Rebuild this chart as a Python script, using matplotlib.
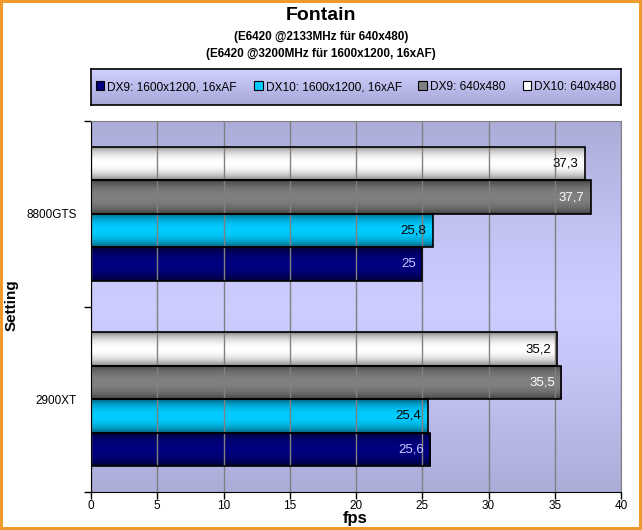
import numpy as np
import matplotlib.pyplot as plt
from matplotlib.colors import LinearSegmentedColormap
from matplotlib.patches import Rectangle

plt.rcParams['font.family'] = ['Liberation Sans', 'DejaVu Sans']

categories = ["2900XT", "8800GTS"]
series = ["DX9: 1600x1200, 16xAF", "DX10: 1600x1200, 16xAF", "DX9: 640x480", "DX10: 640x480"]
values = {
    "DX9: 1600x1200, 16xAF": [25.6, 25.0],
    "DX10: 1600x1200, 16xAF": [25.4, 25.8],
    "DX9: 640x480": [35.5, 37.7],
    "DX10: 640x480": [35.2, 37.3],
}
labels = {
    "DX9: 1600x1200, 16xAF": ["25,6", "25"],
    "DX10: 1600x1200, 16xAF": ["25,4", "25,8"],
    "DX9: 640x480": ["35,5", "37,7"],
    "DX10: 640x480": ["35,2", "37,3"],
}
# (dark edge, light centre, swatch colour, label colour)
styles = {
    "DX9: 1600x1200, 16xAF": ("#000028", "#000080", "#000080", "#C8C8FF"),
    "DX10: 1600x1200, 16xAF": ("#00506A", "#00CCFF", "#00CCFF", "black"),
    "DX9: 640x480": ("#383838", "#808080", "#808080", "white"),
    "DX10: 640x480": ("#707070", "#FFFFFF", "#FFFFFF", "black"),
}

fig = plt.figure(figsize=(6.42, 5.3), dpi=100)
fig.patch.set_edgecolor("#F09A2E")
fig.patch.set_linewidth(4)

ax = fig.add_axes([91/642, 1 - 492/530, 530/642, 371/530])

# plot background gradient
t = np.linspace(0, 1, 256)
bg = 1 - np.abs(2 * t - 1) ** 1.3
bg_cmap = LinearSegmentedColormap.from_list("bg", ["#ACACD9", "#CCCCFF"])
ax.imshow(bg[:, None], cmap=bg_cmap, extent=[0, 1, 0, 1], transform=ax.transAxes,
          aspect="auto", zorder=0, vmin=0, vmax=1)

h = 0.18
y = np.arange(len(categories))
prof = np.sin(np.pi * np.linspace(0, 1, 64)) ** 0.6
for i, s in enumerate(series):
    dark, light, sw, lc = styles[s]
    off = (i - 1.5) * h
    bars = ax.barh(y + off, values[s], height=h, facecolor="none",
                   edgecolor="black", linewidth=1.2, zorder=3)
    cmap = LinearSegmentedColormap.from_list(s, [dark, light])
    for bar, lab in zip(bars, labels[s]):
        x0, y0 = bar.get_x(), bar.get_y()
        w, hh = bar.get_width(), bar.get_height()
        im = ax.imshow(prof[:, None], cmap=cmap, vmin=0, vmax=1, aspect="auto",
                       extent=[x0, x0 + w, y0, y0 + hh], zorder=2)
        im.set_clip_path(bar)
        ax.text(x0 + w - 0.5, y0 + hh / 2, lab, ha="right", va="center",
                color=lc, fontsize=9.5, zorder=4)

ax.set_xlim(0, 40)
ax.set_ylim(-0.5, 1.5)
ax.set_xticks(np.arange(0, 41, 5))
ax.xaxis.grid(True, color="#808080", linewidth=1)
ax.set_axisbelow(False)
for gl in ax.get_xgridlines():
    gl.set_zorder(1)
ax.set_yticks([-0.5, 0.5, 1.5])
ax.set_yticklabels([])
ax.set_yticks(y, minor=True)
ax.set_yticklabels(categories, minor=True, fontsize=8.5)
ax.tick_params(axis="y", which="minor", length=0, pad=10)
ax.tick_params(axis="y", which="major", length=5, width=1)
ax.tick_params(axis="x", length=5, width=1, labelsize=8.5, pad=1)
ax.spines["left"].set_color("black")
ax.spines["bottom"].set_color("black")
ax.spines["top"].set_color("#808080")
ax.spines["right"].set_color("#808080")
for sp in ax.spines.values():
    sp.set_zorder(5)

fig.text(355/642, 1 - 519/530, "fps", ha="center", va="center", fontsize=12, fontweight="bold")
fig.text(12/642, 1 - 305/530, "Setting", rotation=90, ha="center", va="center",
         fontsize=11, fontweight="bold")

fig.text(0.5, 1 - 16/530, "Fontain", ha="center", va="center", fontsize=14, fontweight="bold")
fig.text(0.5, 1 - 37/530, "(E6420 @2133MHz für 640x480)", ha="center", va="center",
         fontsize=8.5, fontweight="bold")
fig.text(0.5, 1 - 54/530, "(E6420 @3200MHz für 1600x1200, 16xAF)", ha="center", va="center",
         fontsize=8.5, fontweight="bold")

# legend box
lax = fig.add_axes([91/642, 1 - 105/530, 530/642, 36/530])
lt = np.linspace(0, 1, 64)
lcmap = LinearSegmentedColormap.from_list("lg", ["#A8A8D8", "#D0D0FF"])
lax.imshow(lt[:, None], cmap=lcmap, extent=[0, 1, 0, 1], aspect="auto", origin="lower")
lax.set_xticks([])
lax.set_yticks([])
for sp in lax.spines.values():
    sp.set_color("black")
    sp.set_linewidth(1.2)
handles = [Rectangle((0, 0), 1, 1, facecolor=styles[s][2], edgecolor="black", linewidth=0.8)
           for s in series]
lax.legend(handles, series, loc="center", ncol=4, frameon=False, fontsize=8.6,
           handlelength=0.75, handleheight=0.75, handletextpad=0.25, columnspacing=1.4)

fig.savefig("out.png", dpi=100)
